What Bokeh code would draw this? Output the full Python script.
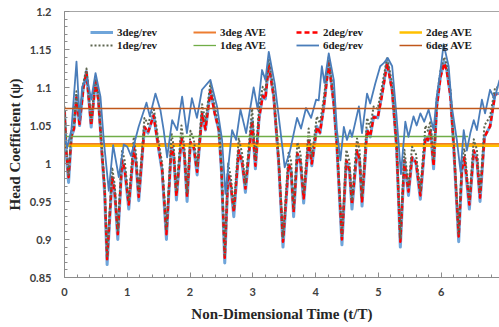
import numpy as np
from bokeh.plotting import figure
from bokeh.models import Range1d, FixedTicker, LinearAxis, Legend, LegendItem
from bokeh.embed import file_html
from bokeh.resources import INLINE

# ---- time axis shared by the 3deg / 2deg / 1deg series (t/T) ----
t_cluster = [
    0.000, 0.030, 0.065, 0.110, 0.150, 0.190, 0.240, 0.300, 0.350, 0.425,
    0.494, 0.540, 0.600, 0.640, 0.679, 0.759, 0.800, 0.849, 0.918, 0.960,
    1.024, 1.104, 1.140, 1.183, 1.274, 1.330, 1.420, 1.486, 1.555, 1.624,
    1.704, 1.740, 1.783, 1.863, 1.910, 1.953, 2.007, 2.060, 2.113, 2.192,
    2.245, 2.325, 2.394, 2.458, 2.500, 2.553, 2.606, 2.650, 2.697, 2.776,
    2.830, 2.882, 2.989, 3.041, 3.100, 3.158, 3.200, 3.254, 3.333, 3.413,
    3.481, 3.570, 3.610, 3.650, 3.710, 3.760, 3.810, 3.890, 3.940, 4.020,
    4.070, 4.130, 4.210, 4.290, 4.340, 4.420, 4.490, 4.540, 4.580, 4.660,
    4.700, 4.740, 4.820, 4.870, 4.925, 4.990, 5.060, 5.140, 5.220, 5.290,
    5.350, 5.415, 5.480, 5.537, 5.600, 5.669, 5.750, 5.790, 5.830, 5.880,
    5.930, 5.990, 6.050, 6.090, 6.150, 6.200, 6.280, 6.330, 6.370, 6.410,
    6.450, 6.520, 6.570, 6.620, 6.690, 6.780, 6.860, 6.930]

psi_3deg = [
    1.070, 1.010, 0.975, 1.035, 1.045, 1.088, 1.050, 1.100, 1.121, 1.048,
    1.110, 1.085, 1.008, 0.960, 0.867, 0.982, 0.960, 0.900, 1.004, 0.990,
    0.940, 1.021, 1.000, 0.951, 1.048, 1.040, 1.064, 1.026, 0.990, 0.900,
    1.025, 1.010, 0.952, 1.035, 1.010, 0.950, 1.028, 1.020, 0.985, 1.066,
    1.044, 1.097, 1.066, 1.044, 0.990, 0.869, 0.986, 0.970, 0.930, 1.017,
    1.000, 0.962, 1.057, 0.993, 1.060, 1.090, 1.085, 1.132, 1.088, 0.999,
    0.890, 0.999, 0.990, 0.930, 1.013, 1.000, 0.948, 1.030, 0.997, 1.049,
    1.040, 1.075, 1.134, 1.079, 1.021, 0.893, 1.004, 0.990, 0.940, 1.017,
    1.005, 0.944, 1.044, 1.035, 1.062, 1.060, 1.092, 1.134, 1.097, 1.021,
    0.890, 1.004, 0.958, 1.008, 1.000, 0.953, 1.035, 1.030, 1.044, 0.993,
    1.075, 1.115, 1.134, 1.123, 1.088, 1.021, 0.897, 0.990, 1.008, 0.975,
    0.940, 1.017, 1.005, 0.950, 1.035, 1.049, 1.092, 1.092]

psi_2deg = [
    1.068, 1.015, 0.982, 1.036, 1.046, 1.087, 1.052, 1.099, 1.120, 1.050,
    1.108, 1.084, 1.010, 0.966, 0.874, 0.983, 0.963, 0.907, 1.004, 0.992,
    0.946, 1.021, 1.002, 0.956, 1.048, 1.041, 1.063, 1.028, 0.993, 0.907,
    1.024, 1.011, 0.957, 1.035, 1.012, 0.956, 1.028, 1.021, 0.989, 1.065,
    1.045, 1.096, 1.066, 1.045, 0.994, 0.876, 0.986, 0.972, 0.936, 1.017,
    1.002, 0.967, 1.056, 0.997, 1.060, 1.089, 1.085, 1.130, 1.088, 1.002,
    0.897, 0.999, 0.992, 0.936, 1.013, 1.002, 0.954, 1.030, 1.000, 1.048,
    1.041, 1.074, 1.132, 1.079, 1.024, 0.900, 1.004, 0.992, 0.946, 1.017,
    1.006, 0.950, 1.044, 1.036, 1.061, 1.060, 1.091, 1.132, 1.096, 1.024,
    0.897, 1.004, 0.963, 1.008, 1.002, 0.958, 1.035, 1.031, 1.043, 0.997,
    1.074, 1.114, 1.132, 1.122, 1.088, 1.024, 0.904, 0.991, 1.008, 0.979,
    0.946, 1.017, 1.006, 0.955, 1.035, 1.049, 1.091, 1.091]

psi_1deg = [
    1.075, 1.020, 0.985, 1.042, 1.052, 1.095, 1.058, 1.106, 1.125, 1.056,
    1.114, 1.090, 1.016, 0.970, 0.878, 0.995, 0.972, 0.912, 1.018, 1.003,
    0.950, 1.035, 1.012, 0.962, 1.060, 1.052, 1.074, 1.036, 1.000, 0.912,
    1.040, 1.022, 0.963, 1.050, 1.022, 0.962, 1.043, 1.032, 0.996, 1.078,
    1.056, 1.106, 1.074, 1.052, 0.999, 0.880, 1.000, 0.982, 0.942, 1.033,
    1.013, 0.973, 1.072, 1.004, 1.074, 1.101, 1.095, 1.138, 1.096, 1.008,
    0.902, 1.014, 1.003, 0.941, 1.028, 1.013, 0.960, 1.046, 1.008, 1.062,
    1.053, 1.085, 1.140, 1.088, 1.030, 0.905, 1.018, 1.003, 0.951, 1.033,
    1.018, 0.956, 1.060, 1.048, 1.075, 1.072, 1.102, 1.140, 1.105, 1.030,
    0.902, 1.018, 0.970, 1.022, 1.012, 0.964, 1.050, 1.043, 1.056, 1.004,
    1.086, 1.122, 1.140, 1.130, 1.096, 1.030, 0.908, 1.004, 1.020, 0.986,
    0.951, 1.032, 1.018, 0.961, 1.050, 1.062, 1.100, 1.100]

# ---- 6deg/rev series ----
t_6deg = [
    0.000, 0.040, 0.110, 0.191, 0.244, 0.281, 0.361, 0.425, 0.494, 0.573,
    0.626, 0.706, 0.775, 0.865, 0.944, 1.000, 1.060, 1.180, 1.306, 1.360,
    1.449, 1.529, 1.580, 1.635, 1.715, 1.794, 1.874, 1.950, 2.030, 2.110,
    2.190, 2.325, 2.430, 2.510, 2.564, 2.670, 2.734, 2.803, 2.893, 3.014,
    3.078, 3.147, 3.201, 3.254, 3.349, 3.439, 3.508, 3.583, 3.705, 3.768,
    3.848, 3.928, 4.008, 4.050, 4.100, 4.140, 4.210, 4.290, 4.340, 4.395,
    4.450, 4.500, 4.550, 4.580, 4.690, 4.740, 4.820, 4.870, 4.950, 5.030,
    5.085, 5.150, 5.220, 5.290, 5.360, 5.430, 5.480, 5.560, 5.610, 5.670,
    5.730, 5.800, 5.880, 5.930, 5.990, 6.040, 6.120, 6.170, 6.250, 6.310,
    6.360, 6.410, 6.465, 6.520, 6.570, 6.650, 6.700, 6.780, 6.850, 6.930]

psi_6deg = [
    1.040, 1.020, 1.044, 1.134, 1.057, 1.101, 1.112, 1.084, 1.119, 1.088,
    1.030, 0.964, 1.024, 0.982, 1.025, 1.022, 1.010, 1.048, 1.080, 1.062,
    1.092, 1.070, 1.044, 1.008, 1.057, 1.044, 1.088, 1.040, 1.086, 1.060,
    1.097, 1.110, 1.075, 1.031, 0.960, 1.044, 1.031, 1.071, 1.040, 1.100,
    1.071, 1.123, 1.110, 1.147, 1.105, 1.044, 0.995, 1.013, 1.060, 1.046,
    1.073, 1.060, 1.084, 1.083, 1.128, 1.106, 1.145, 1.110, 1.044, 1.004,
    1.048, 1.031, 1.044, 1.035, 1.075, 1.040, 1.092, 1.079, 1.105, 1.128,
    1.132, 1.139, 1.128, 1.062, 0.986, 1.055, 1.035, 1.062, 1.050, 1.066,
    1.055, 1.071, 1.044, 1.088, 1.123, 1.157, 1.128, 1.075, 1.031, 0.989,
    1.044, 1.017, 1.040, 1.057, 1.044, 1.084, 1.066, 1.097, 1.085, 1.110]

# ---- averages (horizontal lines) ----
ave_t = [0.0, 7.0]
ave_t_1deg = [0.0, 6.43]
ave_3deg = 1.0255
ave_2deg = 1.0235
ave_1deg = 1.0355
ave_6deg = 1.0725

x_ticks = [0, 1, 2, 3, 4, 5, 6, 7]
x_tick_labels = ["0", "1", "2", "3", "4", "5", "6", "7"]
y_ticks = [0.85, 0.9, 0.95, 1.0, 1.05, 1.1, 1.15, 1.2]
y_tick_labels = ["0.85", "0.9", "0.95", "1", "1.05", "1.1", "1.15", "1.2"]

assert len(t_cluster) == len(psi_3deg) == len(psi_2deg) == len(psi_1deg)
assert len(t_6deg) == len(psi_6deg)

p = figure(width=499, height=327, output_backend="svg", toolbar_location=None,
           x_range=Range1d(0, 6.93), y_range=Range1d(0.85, 1.2),
           min_border_left=64, min_border_right=0, min_border_top=11,
           min_border_bottom=50,
           x_axis_label="Non-Dimensional Time (t/T)",
           y_axis_label="Head Coefficient (\u03c8)")
p.outline_line_color = None
p.xgrid.visible = False
p.ygrid.visible = False
p.background_fill_color = "white"
p.border_fill_color = "white"

r3 = p.line(t_cluster, psi_3deg, line_color="#6FA5DA", line_width=3, line_join="round")
r3a = p.line(ave_t, [ave_3deg, ave_3deg], line_color="#ED7D31", line_width=2)
r2 = p.line(t_cluster, psi_2deg, line_color="#FF0000", line_width=2.5, line_dash="5 3",
            line_join="round")
r2a = p.line(ave_t, [ave_2deg, ave_2deg], line_color="#FFC000", line_width=2.5)
r1 = p.line(t_cluster, psi_1deg, line_color="#5E6650", line_width=2, line_dash="2 2",
            line_join="round")
r1a = p.line(ave_t_1deg, [ave_1deg, ave_1deg], line_color="#70AD47", line_width=1.3)
r6 = p.line(t_6deg, psi_6deg, line_color="#4A7DBA", line_width=1.8, line_join="round")
r6a = p.line(ave_t, [ave_6deg, ave_6deg], line_color="#C0571A", line_width=1.5)

# axes
axis_color = "#8C8C8C"
lab_font = "Lato"
for ax in (p.xaxis[0], p.yaxis[0]):
    ax.axis_line_color = axis_color
    ax.major_tick_line_color = axis_color
    ax.minor_tick_line_color = axis_color
    ax.major_tick_in = 5
    ax.major_tick_out = 0
    ax.minor_tick_in = 3
    ax.minor_tick_out = 0
    ax.major_label_text_font = lab_font
    ax.major_label_text_font_style = "bold"
    ax.major_label_text_font_size = "11px"
    ax.major_label_text_color = "#404040"
    ax.axis_label_text_font = "Liberation Serif"
    ax.axis_label_text_font_style = "bold"
    ax.axis_label_text_font_size = "15px"
    ax.axis_label_text_color = "#262626"

p.xaxis[0].ticker = FixedTicker(ticks=x_ticks,
                                minor_ticks=[round(v, 2) for v in np.arange(0, 7.01, 0.2)])
p.xaxis[0].major_label_overrides = dict(zip(x_ticks, x_tick_labels))
p.xaxis[0].major_label_standoff = 10
p.xaxis[0].axis_label_standoff = 7

p.yaxis[0].ticker = FixedTicker(ticks=y_ticks,
                                minor_ticks=[round(v, 2) for v in np.arange(0.85, 1.2001, 0.01)])
p.yaxis[0].major_label_overrides = dict(zip(y_ticks, y_tick_labels))
p.yaxis[0].major_label_standoff = 13
p.yaxis[0].axis_label_standoff = 4

top = LinearAxis(ticker=FixedTicker(ticks=[]), axis_line_color="#A6A6A6",
                 major_tick_line_color=None, minor_tick_line_color=None,
                 major_label_text_font_size="0px")
p.add_layout(top, "above")

legend = Legend(items=[
    LegendItem(label="3deg/rev", renderers=[r3]),
    LegendItem(label="3deg AVE", renderers=[r3a]),
    LegendItem(label="2deg/rev", renderers=[r2]),
    LegendItem(label="2deg AVE", renderers=[r2a]),
    LegendItem(label="1deg/rev", renderers=[r1]),
    LegendItem(label="1deg AVE", renderers=[r1a]),
    LegendItem(label="6deg/rev", renderers=[r6]),
    LegendItem(label="6deg AVE", renderers=[r6a]),
], orientation="horizontal", ncols=4, location=(26, 226),
    border_line_color=None, background_fill_alpha=0,
    label_text_font="Liberation Serif", label_text_font_style="bold",
    label_text_font_size="11px", label_text_color="#1A1A1A",
    glyph_width=23, glyph_height=12, label_height=12, label_width=75,
    label_standoff=4, spacing=1, padding=0, margin=0)
p.add_layout(legend)

open("out.html", "w").write(file_html(p, INLINE))
